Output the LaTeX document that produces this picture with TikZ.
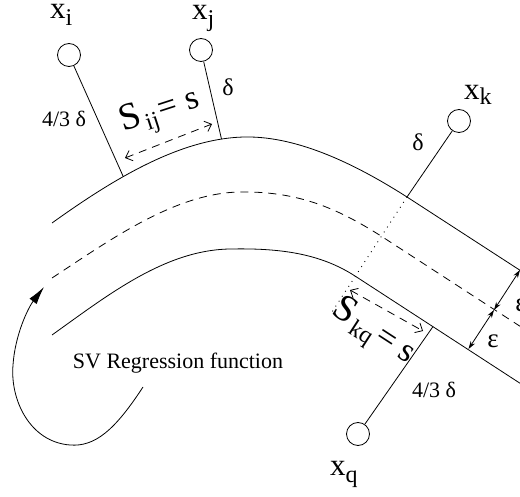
\documentclass[tikz,border=0pt]{standalone}
\usepackage{fontspec}
\setmainfont{Liberation Serif}
\usetikzlibrary{arrows.meta,calc}
\begin{document}
\begin{tikzpicture}[x=1pt,y=-1pt,
  pt/.style={circle,draw,line width=0.8pt,minimum size=23pt,inner sep=0pt},
  ln/.style={line width=0.8pt},
  dsh/.style={line width=0.8pt,dash pattern=on 8pt off 6pt},
  dts/.style={line width=0.9pt,dash pattern=on 0.9pt off 5pt},
  lbl/.style={inner sep=0pt,font=\fontsize{22}{22}\selectfont},
  dl/.style={inner sep=0pt,font=\fontsize{24}{24}\selectfont},
  xl/.style={inner sep=0pt,anchor=base west,font=\fontsize{31}{31}\selectfont},
  barb/.style={{Straight Barb[length=6pt,width=11pt]}-{Straight Barb[length=6pt,width=11pt]}},
  epsarr/.style={line width=0.8pt,{Stealth[length=8pt,width=5pt]}-{Stealth[length=8pt,width=5pt]}}]
\useasboundingbox (0,0) rectangle (520,497);
\begin{scope}
\clip (0,0) rectangle (520,497);
% band curves
\draw[ln] (52,223) .. controls (112,180) and (180,138) .. (245,137)
  coordinate[pos=0.38] (fi) coordinate[pos=0.88] (fj)
  .. controls (300,136) and (360,167) .. (407,197) coordinate (fk)
  -- (535,280);
\draw[dsh] (52,278) .. controls (110,240) and (175,193) .. (240,192)
  .. controls (300,191) and (340,210) .. (381,236) -- (535,336);
\draw[ln] (52,335) .. controls (108,295) and (165,250) .. (230,249)
  .. controls (280,248) and (320,253.4) .. (355,276) -- (535,393)
  coordinate[pos=0.433] (fq);
% points
\node[pt] (xi) at (69,55) {};
\node[pt] (xj) at (201,50) {};
\node[pt] (xk) at (459,121) {};
\node[pt] (xq) at (358,434) {};
\draw[ln] (xi) -- (fi);
\draw[ln] (xj) -- (fj);
\draw[ln] (xk) -- (fk);
\draw[ln] (xq) -- (fq);
% dotted perpendicular
\coordinate (dk) at ($(fk)+(-75,115)$);
\draw[dts] (fk) -- (dk);
% s arrows
\coordinate (sa) at (125,158);
\coordinate (sb) at (212,124);
\draw[dsh,barb] (sa) -- (sb);
\coordinate (sc) at (350,290);
\coordinate (sd) at (423,331);
\draw[dsh,barb] (sc) -- (sd);
% epsilon arrows
\coordinate (e1) at (520,270);
\coordinate (e2) at (494,310);
\coordinate (e3) at (468.5,349);
\draw[epsarr] (e2) -- (e1);
\draw[epsarr] (e3) -- (e2);
\node[inner sep=0pt,font=\fontsize{27}{27}\selectfont] (eps1) at (521,305) {ε};
\node[inner sep=0pt,font=\fontsize{27}{27}\selectfont] (eps2) at (493,341) {ε};
% labels
\node[xl] (lxi) at (50,19) {x\raisebox{-7pt}{\fontsize{24}{24}\selectfont i}};
\node[xl] (lxj) at (192,20) {x\raisebox{-7pt}{\fontsize{24}{24}\selectfont j}};
\node[xl] (lxk) at (464,100) {x\raisebox{-5pt}{\fontsize{24}{24}\selectfont k}};
\node[xl] (lxq) at (330,475) {x\raisebox{-7pt}{\fontsize{24}{24}\selectfont q}};
\node[lbl] (d1) at (64,119) {4/3 δ};
\node[dl] (d2) at (228,87) {δ};
\node[dl] (d3) at (418,142) {δ};
\node[lbl] (d4) at (434,390) {4/3 δ};
\node[inner sep=0pt,rotate=18] (sij) at (160,113)
  {{\fontsize{38}{38}\selectfont S}\kern3pt\raisebox{-7pt}{\fontsize{24}{24}\selectfont ij}\kern3pt{\fontsize{34}{34}\selectfont = s}};
\node[inner sep=0pt,rotate=-33] (skq) at (373,333)
  {{\fontsize{38}{38}\selectfont S}\kern3pt\raisebox{-7pt}{\fontsize{24}{24}\selectfont kq}\kern3pt{\fontsize{34}{34}\selectfont = s}};
\node[lbl] (sv) at (178,363) {SV Regression function};
% pointer arrow
\coordinate (ps) at (143,387);
\coordinate (pe) at (44,287);
\draw[ln,-{Latex[length=18pt,width=9pt]}] (ps) .. controls (115,430) and (95,447) .. (70,445)
  .. controls (30,442) and (10,400) .. (13,365)
  .. controls (15,335) and (28,308) .. (pe);
\end{scope}
\end{tikzpicture}
\end{document}
